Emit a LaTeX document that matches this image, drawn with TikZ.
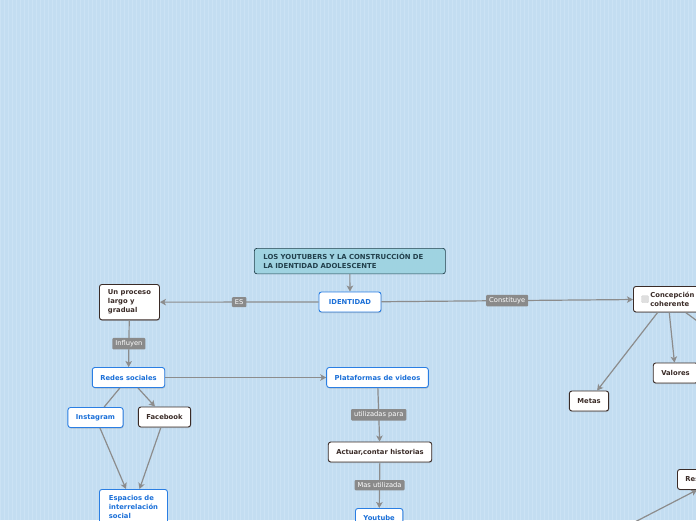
\documentclass[tikz,border=0pt]{standalone}
\usepackage{fontspec}
\setmainfont{DejaVu Sans}
\usetikzlibrary{arrows.meta,positioning,shadows}

\definecolor{fondo}{HTML}{C3DDF1}
\definecolor{rejillacol}{HTML}{CBE2F4}
\definecolor{titulofondo}{HTML}{9FD3E1}
\definecolor{titulotexto}{HTML}{22404C}
\definecolor{bordeazul}{HTML}{2A7EE3}
\definecolor{textoazul}{HTML}{1A6FD8}
\definecolor{oscuro}{HTML}{3A2B27}
\definecolor{gris}{HTML}{8C8C8C}
\definecolor{grisetiqueta}{HTML}{8A8A8A}

\begin{document}
\begin{tikzpicture}[
    x=1pt,
    y=-1pt,
    font=\fontsize{6.8}{9}\selectfont\bfseries,
    caja/.style={draw, fill=white, rounded corners=2.5pt, line width=0.9pt,
        inner xsep=8pt, inner ysep=5.5pt, minimum height=20pt, align=left,
        drop shadow={shadow xshift=0.5pt, shadow yshift=-1pt, opacity=0.35}},
    azul/.style={caja, draw=bordeazul, text=textoazul},
    marron/.style={caja, draw=oscuro, text=oscuro},
    titulo/.style={draw=titulotexto, fill=titulofondo, text=titulotexto,
        rounded corners=2.5pt, line width=0.7pt, inner xsep=9pt, inner ysep=5pt,
        text width=173pt, align=left, font=\fontsize{6.9}{9}\selectfont\bfseries},
    enlace/.style={draw=gris, line width=1.2pt, -{Stealth[length=6pt, width=6.5pt, inset=1.5pt]}},
    linea/.style={draw=gris, line width=1.2pt},
    etiqueta/.style={fill=grisetiqueta, text=white, midway, rounded corners=1pt,
        inner xsep=3pt, inner ysep=2.5pt, font=\fontsize{6.7}{7}\selectfont},
    casilla/.style={fill=gray!25, draw=gray!35, rounded corners=1pt, minimum size=7pt, inner sep=0pt},
    rejilla/.style={rejillacol, line width=0.4pt}
]

% =========================================================
% FONDO
% =========================================================

\path[use as bounding box] (0,0) rectangle (696,520);
\clip (0,0) rectangle (696,520);
\fill[fondo] (0,0) rectangle (696,520);
\draw[rejilla] (0,0) grid[step=4] (696,520);

% =========================================================
% NODOS
% =========================================================

% Tema central
\node[titulo, anchor=north west] (titulo) at (254,248)
    {LOS YOUTUBERS Y LA CONSTRUCCIÓN DE\\LA IDENTIDAD ADOLESCENTE};
\node[azul, minimum width=62pt] (identidad) at (350,302) {IDENTIDAD};

% Rama izquierda
\node[marron, anchor=north west, minimum width=60pt] (proceso) at (99,284)
    {Un proceso\\largo y\\gradual};
\node[azul] (redes) at (128.5,377.5) {Redes sociales};
\node[azul] (instagram) at (95.5,417.5) {Instagram};
\node[marron] (facebook) at (164.5,417) {Facebook};
\node[azul, anchor=north west, minimum width=68pt] (espacios) at (99,489)
    {Espacios de\\interrelación\\social};

% Rama central
\node[azul] (plataformas) at (377.5,377.5) {Plataformas de videos};
\node[marron] (actuar) at (380,452) {Actuar,contar historias};
\node[azul, anchor=north west] (youtube) at (355,508) {Youtube};

% Rama derecha
\node[marron, anchor=north west] (concepcion) at (633,286)
    {\hspace*{9pt}Concepción\\\hspace*{9pt}coherente};
\node[casilla] (check) at ([xshift=12pt]concepcion.west) {};
\node[marron] (metas) at (589,401) {Metas};
\node[marron] (valores) at (675.5,373) {Valores};
\node[marron, anchor=north west] (respeto) at (677,469) {Respeto};

% Extremos fuera del marco
\coordinate (derecha) at (720,338);
\coordinate (abajo) at (600,540);

% =========================================================
% CONEXIONES
% =========================================================

\draw[enlace] (titulo.south) -- (identidad);
\draw[enlace] (identidad) -- node[etiqueta] {ES} (proceso);
\draw[enlace] (identidad) -- node[etiqueta] {Constituye} (concepcion);

\draw[enlace] (proceso) -- node[etiqueta] {Influyen} (redes);
\draw[enlace] (redes) -- (plataformas);
\draw[linea] (redes) -- (instagram);
\draw[enlace] (redes) -- (facebook);
\draw[enlace] (instagram) -- (espacios);
\draw[enlace] (facebook) -- (espacios);

\draw[enlace] (plataformas) -- node[etiqueta] {utilizadas para} (actuar);
\draw[enlace] (actuar) -- node[etiqueta] {Mas utilizada} (youtube);

\draw[enlace] (concepcion) -- (metas);
\draw[enlace] (concepcion) -- (valores);
\draw[enlace] (concepcion) -- (derecha);
\draw[enlace] (abajo) -- ([xshift=20pt]respeto.south west);

\end{tikzpicture}
\end{document}
